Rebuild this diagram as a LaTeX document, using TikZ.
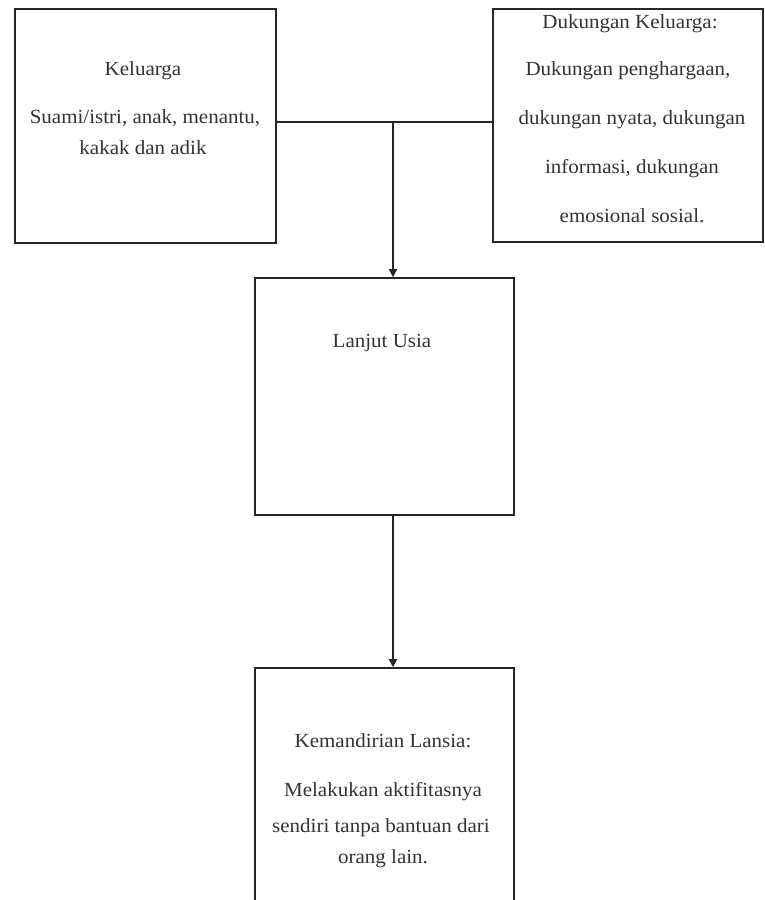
\documentclass[tikz,border=0pt]{standalone}
\usepackage{fontspec}
\setmainfont{Liberation Serif}
\usetikzlibrary{arrows.meta}
\tikzset{
  box/.style={draw=black!85, line width=1.6pt, rectangle, inner sep=0pt},
  lbl/.style={inner sep=0pt, text=black!80, font=\fontsize{20}{23}\selectfont, xscale=1.05},
  conn/.style={draw=black!85, line width=1.6pt},
  arr/.style={conn, -{Triangle[length=8pt,width=8pt]}}
}
\begin{document}
\begin{tikzpicture}[x=1pt,y=-1pt]
\useasboundingbox (0,0) rectangle (765,900);
\clip (0,0) rectangle (765,900);
\fill[white] (0,0) rectangle (765,900);
% boxes
\node[box, minimum width=261pt, minimum height=234pt] (kel) at (145.5,126) {};
\node[box, minimum width=270pt, minimum height=233pt] (duk) at (628,125.5) {};
\node[box, minimum width=259pt, minimum height=237pt] (lan) at (384.5,396.5) {};
\node[box, minimum width=259pt, minimum height=260pt] (man) at (384.5,798) {};
% texts
\node[lbl] (t1) at (143,71) {Keluarga};
\node[lbl] (t2) at (145,118) {Suami/istri, anak, menantu,};
\node[lbl] (t3) at (143,148) {kakak dan adik};
\node[lbl] (d1) at (630,24) {Dukungan Keluarga:};
\node[lbl] (d2) at (628,71) {Dukungan penghargaan,};
\node[lbl] (d3) at (632,120) {dukungan nyata, dukungan};
\node[lbl] (d4) at (632,169) {informasi, dukungan};
\node[lbl] (d5) at (632,216) {emosional sosial.};
\node[lbl] (l1) at (382,343) {Lanjut Usia};
\node[lbl] (m1) at (383,741) {Kemandirian Lansia:};
\node[lbl] (m2) at (383,792) {Melakukan aktifitasnya};
\node[lbl] (m3) at (381,828) {sendiri tanpa bantuan dari};
\node[lbl] (m4) at (383,859) {orang lain.};
% connectors
\coordinate (j) at (393,122);
\draw[conn] (kel.east |- j) -- (duk.west |- j);
\draw[arr] (j) -- (j |- lan.north);
\draw[arr] (j |- lan.south) -- (j |- man.north);
\end{tikzpicture}
\end{document}
